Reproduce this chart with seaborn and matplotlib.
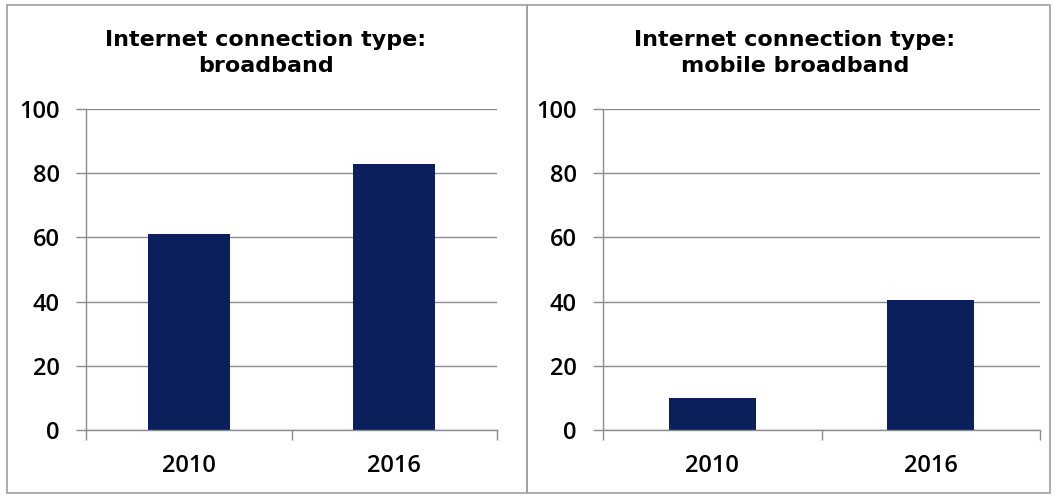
import matplotlib
matplotlib.use('Agg')
import matplotlib.pyplot as plt
import seaborn as sns
import pandas as pd
from matplotlib.patches import Rectangle

# values
years = ['2010', '2016']
broadband = [61, 83]
mobile_broadband = [10, 40.6]
titles = ['Internet connection type:\nbroadband', 'Internet connection type:\nmobile broadband']
yticks = [0, 20, 40, 60, 80, 100]

sns.set_theme(style='white')
plt.rcParams['font.family'] = ['Open Sans', 'DejaVu Sans']

BAR = '#0b1f5b'
GRID = '#8c8c8c'

fig = plt.figure(figsize=(10.54, 4.96), dpi=100)
fig.patch.set_facecolor('white')

# panel frames (Excel-style chart boxes)
for x0, x1 in [(7, 527), (527, 1050)]:
    fig.patches.append(Rectangle((x0 / 1054, 1 - 493 / 496), (x1 - x0) / 1054, (493 - 5) / 496,
                                 transform=fig.transFigure, fill=False, edgecolor='#a0a0a0', lw=1.2))

axes_pos = [[86 / 1054, 1 - 430 / 496, (497 - 86) / 1054, (430 - 109) / 496],
            [603 / 1054, 1 - 430 / 496, (1040 - 603) / 1054, (430 - 109) / 496]]
title_x = [266 / 1054, 795 / 1054]

for pos, vals, title, tx in zip(axes_pos, [broadband, mobile_broadband], titles, title_x):
    ax = fig.add_axes(pos)
    df = pd.DataFrame({'year': years, 'value': vals})
    sns.barplot(data=df, x='year', y='value', color=BAR, width=0.4, saturation=1,
                linewidth=0, ax=ax)
    ax.set_xlim(-0.5, 1.5)
    ax.set_ylim(0, 100)
    ax.set_yticks(yticks)
    ax.set_yticklabels([str(t) for t in yticks])
    ax.yaxis.grid(True, color=GRID, lw=1)
    ax.set_axisbelow(True)
    for s in ['top', 'right']:
        ax.spines[s].set_visible(False)
    for s in ['left', 'bottom']:
        ax.spines[s].set_color(GRID)
        ax.spines[s].set_linewidth(1)
    ax.set_xlabel('')
    ax.set_ylabel('')
    # category tick marks sit at the boundaries between categories
    ax.set_xticks([-0.5, 0.5, 1.5], minor=False)
    ax.set_xticklabels(['', '', ''])
    ax.set_xticks([0, 1], minor=True)
    ax.set_xticklabels(years, minor=True)
    ax.tick_params(axis='x', which='major', bottom=True, length=7, width=1, color=GRID, direction='out')
    ax.tick_params(axis='x', which='minor', bottom=False, length=0, pad=17, labelsize=17)
    ax.tick_params(axis='y', left=True, length=7, width=1, color=GRID, direction='out', pad=12, labelsize=17)
    for lbl in ax.get_yticklabels() + ax.get_xticklabels(minor=True):
        lbl.set_color('black')
        lbl.set_fontweight('semibold')
    fig.text(tx, 1 - 53 / 496, title, ha='center', va='center', fontsize=16,
             fontweight='bold', color='black', linespacing=1.35,
             family=['DejaVu Sans'])

fig.savefig('out.png', dpi=100, facecolor='white')
